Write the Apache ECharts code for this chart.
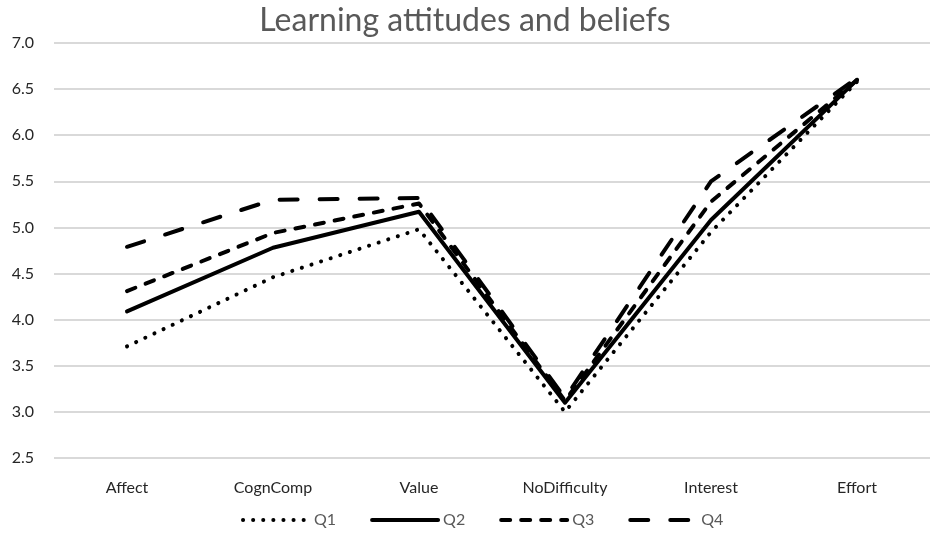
<!DOCTYPE html>
<html>
<head>
<meta charset="utf-8">
<script src="https://cdn.jsdelivr.net/npm/echarts@6/dist/echarts.min.js"></script>
<style>
  html, body { margin: 0; padding: 0; background: #fff; }
  #main { width: 930px; height: 538px; }
</style>
</head>
<body>
<div id="main"></div>
<script>
// values
const categories = ['Affect', 'CognComp', 'Value', 'NoDifficulty', 'Interest', 'Effort'];
const q1 = [3.71, 4.46, 4.98, 3.0, 4.95, 6.58];
const q2 = [4.09, 4.78, 5.17, 3.1, 5.08, 6.6];
const q3 = [4.31, 4.94, 5.26, 3.12, 5.28, 6.6];
const q4 = [4.79, 5.3, 5.32, 3.15, 5.5, 6.62];
const seriesNames = ['Q1', 'Q2', 'Q3', 'Q4'];

const dashes = {
    Q1: [0.1, 10],
    Q2: 'solid',
    Q3: [9, 11],
    Q4: [18, 22]
};

function makeSeries(name, values) {
    return {
        name: name,
        type: 'line',
        data: values,
        symbol: 'none',
        lineStyle: {
            color: '#000',
            width: 4,
            type: dashes[name],
            cap: 'round',
            join: 'round'
        },
        itemStyle: { color: '#000' }
    };
}

let chart = echarts.init(document.getElementById('main'));
let option = {
    animation: false,
    title: {
        text: 'Learning attitudes and beliefs',
        left: 'center',
        top: 0,
        textStyle: {
            fontFamily: 'Lato',
            fontWeight: 'normal',
            fontSize: 32,
            color: '#595959'
        }
    },
    grid: { left: 54, right: 0, top: 43, bottom: 80 },
    legend: {
        bottom: 5,
        left: 236,
        itemWidth: 66,
        itemHeight: 14,
        itemGap: 34,
        data: seriesNames,
        lineStyle: { width: 4 },
        itemStyle: { opacity: 0 },
        textStyle: { fontFamily: 'Lato', fontSize: 16, color: '#595959' }
    },
    xAxis: {
        type: 'category',
        data: categories,
        axisLine: { show: false },
        axisTick: { show: false },
        axisLabel: { fontFamily: 'Lato', fontSize: 16, color: '#262626', margin: 22 }
    },
    yAxis: {
        type: 'value',
        min: 2.5,
        max: 7,
        interval: 0.5,
        axisLabel: {
            fontFamily: 'Lato',
            fontSize: 16,
            color: '#262626',
            margin: 20,
            formatter: v => v.toFixed(1)
        },
        splitLine: { lineStyle: { color: '#d9d9d9', width: 2 } }
    },
    series: [
        makeSeries('Q1', q1),
        makeSeries('Q2', q2),
        makeSeries('Q3', q3),
        makeSeries('Q4', q4)
    ]
};
chart.setOption(option);
</script>
</body>
</html>
